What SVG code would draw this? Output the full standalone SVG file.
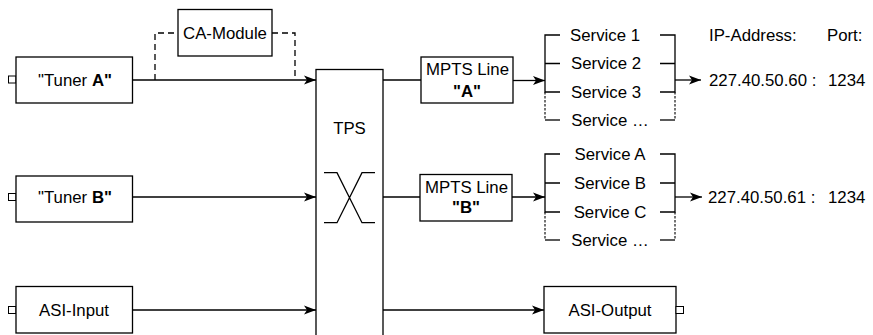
<svg xmlns="http://www.w3.org/2000/svg" width="873" height="335" viewBox="0 0 873 335">
<defs>
<style>
.box{fill:#fff;stroke:#000;stroke-width:1.3}
.port{fill:#fff;stroke:#000;stroke-width:1}
.ln{fill:none;stroke:#000;stroke-width:1.3}
.dash{fill:none;stroke:#000;stroke-width:1.3;stroke-dasharray:6 4}
.dot{fill:none;stroke:#000;stroke-width:1.1;stroke-dasharray:2.5 1.5}
text{font-family:"Liberation Sans",Arial,sans-serif;font-size:16.8px;fill:#000;dominant-baseline:central}
.c{text-anchor:middle}
.b{font-weight:bold}
</style>
<marker id="arr" markerWidth="13" markerHeight="11" refX="12" refY="5" orient="auto" markerUnits="userSpaceOnUse" viewBox="0 0 13 11">
<path d="M0,0.5 L12,5 L0,9.5 L3,5 Z" fill="#000"/>
</marker>
</defs>
<rect width="873" height="335" fill="#fff"/>

<g id="connectors">
<path class="dash" d="M155,80 V33 H178"/>
<path class="dash" d="M272,33 H295 V80"/>
<path class="ln" d="M132.5,80 H316" marker-end="url(#arr)"/>
<path class="ln" d="M132.5,197 H316" marker-end="url(#arr)"/>
<path class="ln" d="M132.5,310 H316" marker-end="url(#arr)"/>
<path class="ln" d="M383,80 H421"/>
<path class="ln" d="M383,197 H420"/>
<path class="ln" d="M383,310 H544" marker-end="url(#arr)"/>
<path class="ln" d="M513,80.5 H545" marker-end="url(#arr)"/>
<path class="ln" d="M512,197 H545" marker-end="url(#arr)"/>
<path class="ln" d="M675,80 H701" marker-end="url(#arr)"/>
<path class="ln" d="M675,197 H702" marker-end="url(#arr)"/>
</g>

<g id="tuner-a">
<rect class="port" x="8.5" y="76" width="7.5" height="7"/>
<rect class="box" x="16" y="57" width="116.5" height="46"/>
<text class="c" x="75" y="80">"Tuner <tspan class="b">A"</tspan></text>
</g>
<g id="ca-module">
<rect class="box" x="178" y="9.5" width="94" height="46.5"/>
<text class="c" x="225" y="33">CA-Module</text>
</g>
<g id="tuner-b">
<rect class="port" x="8.5" y="193.5" width="7.5" height="7"/>
<rect class="box" x="16" y="176" width="116.5" height="46"/>
<text class="c" x="75" y="197">"Tuner <tspan class="b">B"</tspan></text>
</g>
<g id="asi-input">
<rect class="port" x="8.5" y="306.5" width="7.5" height="7"/>
<rect class="box" x="16" y="286.5" width="116.5" height="46.5"/>
<text class="c" x="74" y="310">ASI-Input</text>
</g>

<g id="tps">
<rect class="box" x="316" y="69.5" width="67" height="280"/>
<text class="c" x="349.5" y="128">TPS</text>
<path class="ln" d="M324,172.7 H337 L362,222.7 H375 M324,222.7 H337 L362,172.7 H375"/>
</g>

<g id="mpts-a">
<rect class="box" x="421" y="57" width="92" height="46"/>
<text class="c" x="467.5" y="69.5">MPTS Line</text>
<text class="c b" x="467" y="91">"A"</text>
</g>
<g id="mpts-b">
<rect class="box" x="420" y="174.5" width="92" height="46.5"/>
<text class="c" x="466.5" y="187">MPTS Line</text>
<text class="c b" x="466" y="207.5">"B"</text>
</g>

<g id="asi-output">
<rect class="box" x="544" y="286.5" width="132" height="46.5"/>
<rect class="port" x="676" y="306.5" width="7.5" height="7"/>
<text class="c" x="610" y="310">ASI-Output</text>
</g>

<g id="services-a">
<path class="ln" d="M560,35 H545 V92 H560 M545,63.5 H560"/>
<path class="dot" d="M545,92 V120"/>
<path class="ln" d="M545,120 H560"/>
<path class="ln" d="M660,35 H675 V92 H660 M660,63.5 H675"/>
<path class="dot" d="M675,92 V120"/>
<path class="ln" d="M660,120 H675"/>
<text class="c" x="605" y="35">Service 1</text>
<text class="c" x="606" y="63.5">Service 2</text>
<text class="c" x="606" y="92">Service 3</text>
<text class="c" x="610" y="120">Service …</text>
</g>
<g id="services-b">
<path class="ln" d="M560,154 H545 V212 H560 M545,183 H560"/>
<path class="dot" d="M545,212 V240"/>
<path class="ln" d="M545,240 H560"/>
<path class="ln" d="M660,154 H675 V212 H660 M660,183 H675"/>
<path class="dot" d="M675,212 V240"/>
<path class="ln" d="M660,240 H675"/>
<text class="c" x="610" y="154">Service A</text>
<text class="c" x="610" y="183">Service B</text>
<text class="c" x="610" y="212">Service C</text>
<text class="c" x="610" y="240">Service …</text>
</g>

<g id="addresses">
<text x="709" y="35">IP-Address:</text>
<text x="827" y="35">Port:</text>
<text x="709" y="80">227.40.50.60 :</text>
<text x="828" y="80">1234</text>
<text x="708" y="197">227.40.50.61 :</text>
<text x="828" y="197">1234</text>
</g>
</svg>
